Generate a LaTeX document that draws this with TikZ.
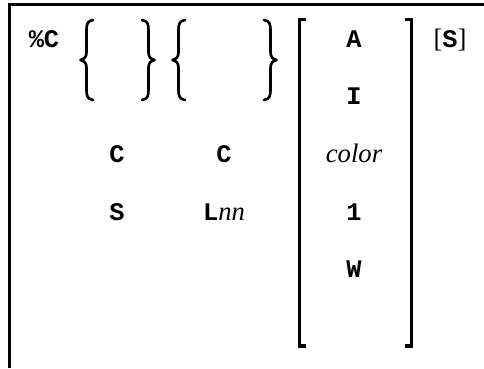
\documentclass[tikz,border=0pt]{standalone}
\usepackage{fontspec}
\setmainfont{Liberation Serif}
\setmonofont{Liberation Mono}
\newcommand{\kwf}{\fontsize{19}{22}\selectfont\ttfamily\bfseries}
\newcommand{\varf}{\fontsize{20}{22}\selectfont\rmfamily\itshape}
\begin{document}
\begin{tikzpicture}[x=0.75pt,y=-0.75pt,
  kw/.style={font=\kwf, anchor=base, inner sep=0pt},
  var/.style={font=\varf, anchor=base, inner sep=0pt},
  frameline/.style={line width=2.25pt},
  bracestroke/.style={line width=2pt, line cap=round, line join=round},
  brk/.style={line width=2.6pt, line cap=butt, line join=miter}]
\useasboundingbox (0,0) rectangle (484,368);
% frame (top and left only)
\draw[frameline] (9.5,368) -- (9.5,4) -- (484,4);
% texts
\node[kw] (pc) at (44,47) {\%C};
\node[kw] (c1) at (117,162) {C};
\node[kw] (s1) at (117,220) {S};
\node[kw] (c2) at (224,162) {C};
\node[anchor=base, inner sep=0pt] (lnn) at (224,220) {{\kwf L}{\varf nn}};
\node[kw] (a) at (354,47) {A};
\node[kw] (i) at (354,104) {I};
\node[var] (color) at (354,162) {color};
\node[kw] (one) at (354,220) {1};
\node[kw] (w) at (354,277) {W};
\node[anchor=base, inner sep=0pt, font=\fontsize{20}{22}\selectfont] (opt) at (450,47) {[{\kwf S}]};
% braces
\draw[bracestroke] (93,20) .. controls (87.5,21) and (86.5,24) .. (86.5,30) -- (86.5,52)
  .. controls (86.5,57) and (84.5,59) .. (80.5,60) .. controls (84.5,61) and (86.5,63) .. (86.5,68)
  -- (86.5,90) .. controls (86.5,96) and (87.5,99) .. (93,100);
\draw[bracestroke] (142,20) .. controls (147.5,21) and (148.5,24) .. (148.5,30) -- (148.5,52)
  .. controls (148.5,57) and (150.5,59) .. (154.5,60) .. controls (150.5,61) and (148.5,63) .. (148.5,68)
  -- (148.5,90) .. controls (148.5,96) and (147.5,99) .. (142,100);
\draw[bracestroke] (185,20) .. controls (179.5,21) and (178.5,24) .. (178.5,30) -- (178.5,52)
  .. controls (178.5,57) and (176.5,59) .. (172.5,60) .. controls (176.5,61) and (178.5,63) .. (178.5,68)
  -- (178.5,90) .. controls (178.5,96) and (179.5,99) .. (185,100);
\draw[bracestroke] (264,20) .. controls (269.5,21) and (270.5,24) .. (270.5,30) -- (270.5,52)
  .. controls (270.5,57) and (272.5,59) .. (276.5,60) .. controls (272.5,61) and (270.5,63) .. (270.5,68)
  -- (270.5,90) .. controls (270.5,96) and (269.5,99) .. (264,100);
% brackets
\draw[brk] (306,19.5) -- (299.5,19.5) -- (299.5,346) -- (306,346);
\draw[brk] (405,19.5) -- (411.5,19.5) -- (411.5,346) -- (405,346);
\end{tikzpicture}
\end{document}
